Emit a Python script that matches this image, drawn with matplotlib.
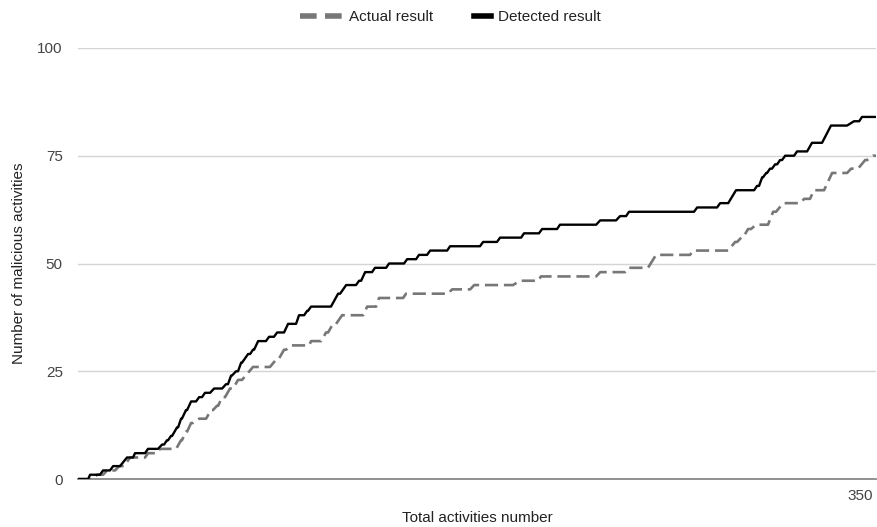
import matplotlib
matplotlib.use("Agg")
import matplotlib.pyplot as plt
from matplotlib.lines import Line2D

plt.rcParams['font.family'] = ['Liberation Sans', 'DejaVu Sans']

# plateaus of each step series: start index, end index, value
actual_start = [0, 8.5, 13.0, 18.4, 23.3, 31.3, 36.7, 46.1, 48.3, 50.6, 54.2, 59.5, 62.2, 64.5,
                68.0, 71.6, 78.3, 89.1, 92.2, 95.3, 104.3, 111.0, 114.1, 118.2, 129.4, 134.7,
                146.8, 167.4, 177.3, 197.8, 207.2, 233.7, 246.2, 258.7, 275.3, 294.1, 296.8,
                299.9, 303.5, 311.1, 315.6, 325.0, 329.4, 337.5, 346.0, 352.3, 355.8]
actual_end = [6.7, 11.2, 16.6, 20.6, 30.0, 35.4, 43.9, 46.5, 48.8, 51.5, 57.3, 60.4, 62.7, 65.8,
              69.4, 73.4, 85.9, 90.0, 93.1, 103.4, 108.8, 111.9, 115.5, 127.6, 133.4, 145.5,
              165.6, 175.5, 194.7, 205.9, 231.9, 244.8, 255.1, 273.9, 291.0, 295.0, 297.6,
              301.2, 308.8, 312.4, 323.2, 327.6, 333.9, 344.2, 349.1, 353.2, 357.2]
actual_val = [0, 1, 2, 3, 5, 6, 7, 9, 11, 13, 14, 16, 17, 19,
              21, 23, 26, 28, 30, 31, 32, 34, 36, 38, 40, 42,
              43, 44, 45, 46, 47, 48, 49, 52, 53, 55, 56,
              58, 59, 62, 64, 65, 67, 71, 72, 74, 75]

detected_start = [0, 5.4, 11.2, 15.7, 21.9, 25.5, 31.3, 37.6, 39.8, 41.6, 44.3, 46.1, 48.3, 50.6,
                  54.2, 56.8, 60.9, 66.2, 68.5, 70.7, 73.0, 76.1, 78.3, 80.6, 85.5, 89.1, 94.0,
                  98.9, 102.5, 104.3, 116.4, 120.0, 125.8, 128.5, 132.9, 139.2, 147.3, 152.6,
                  157.6, 166.5, 181.3, 188.9, 199.6, 207.7, 215.7, 233.7, 242.6, 246.6, 277.1,
                  287.4, 294.5, 303.9, 306.2, 308.0, 309.7, 312.0, 314.2, 316.5, 321.8, 328.5,
                  337.0, 347.3, 350.9]
detected_end = [4.5, 9.8, 14.3, 18.8, 24.6, 30.0, 35.8, 38.5, 40.3, 42.1, 44.8, 46.5, 48.8, 52.8,
                55.5, 59.1, 64.5, 67.1, 68.9, 71.6, 73.4, 77.0, 78.8, 84.1, 87.7, 92.2, 97.6,
                101.2, 102.9, 113.2, 117.3, 124.4, 126.7, 131.6, 137.9, 145.9, 151.3, 156.2,
                165.2, 179.9, 187.5, 198.3, 206.3, 214.4, 231.9, 240.8, 245.3, 275.7, 286.0,
                291.0, 302.6, 304.8, 306.6, 308.4, 310.6, 312.9, 315.1, 320.5, 326.3, 333.0,
                344.2, 349.6, 357.2]
detected_val = [0, 1, 2, 3, 5, 6, 7, 8, 9, 10, 12, 14, 16, 18,
                19, 20, 21, 22, 24, 25, 27, 29, 30, 32, 33, 34, 36,
                38, 39, 40, 43, 45, 46, 48, 49, 50, 51, 52,
                53, 54, 55, 56, 57, 58, 59, 60, 61, 62, 63,
                64, 67, 68, 70, 71, 72, 73, 74, 75, 76, 78,
                82, 83, 84]

y_ticks = [0, 25, 50, 75, 100]
x_ticks = [350]


def plateau_path(starts, ends, vals):
    xs, ys = [], []
    for s, e, v in zip(starts, ends, vals):
        xs += [s, e]
        ys += [v, v]
    return xs, ys


fig = plt.figure(figsize=(8.77, 5.27), dpi=100)
ax = fig.add_axes([0.089, 0.091, 0.910, 0.818])

ax_x, ax_y = plateau_path(actual_start, actual_end, actual_val)
de_x, de_y = plateau_path(detected_start, detected_end, detected_val)

ax.plot(ax_x, ax_y, color='#777777', lw=1.9, dashes=(5, 2.2), solid_capstyle='butt', zorder=3)
ax.plot(de_x, de_y, color='#000000', lw=1.7, zorder=4)

ax.set_xlim(0, 357.2)
ax.set_ylim(0, 100)
ax.set_yticks(y_ticks)
ax.set_xticks(x_ticks)
ax.tick_params(length=0, labelsize=11, colors='#444444')
ax.tick_params(axis='y', pad=11)
ax.tick_params(axis='x', pad=7)
ax.grid(axis='y', color='#d4d4d4', lw=1)
ax.set_axisbelow(True)
for side in ['top', 'right', 'left']:
    ax.spines[side].set_visible(False)
ax.spines['bottom'].set_color('#888888')
ax.spines['bottom'].set_linewidth(1.3)

ax.set_xlabel('Total activities number', fontsize=11, color='#222222', labelpad=6)
ax.set_ylabel('Number of malicious activities', fontsize=11, color='#222222', labelpad=8)

# two legends so each icon keeps its own length
leg1 = fig.legend([Line2D([], [], color='#777777', lw=4, dashes=(3.0, 1.5))], ['Actual result'],
                  loc='center', bbox_to_anchor=(0.418, 0.968), frameon=False, fontsize=11,
                  handlelength=2.75, handletextpad=0.5)
leg2 = fig.legend([Line2D([], [], color='#000000', lw=4)], ['Detected result'],
                  loc='center', bbox_to_anchor=(0.613, 0.968), frameon=False, fontsize=11,
                  handlelength=1.1, handletextpad=0.5)
for leg in (leg1, leg2):
    for t in leg.get_texts():
        t.set_color('#222222')

fig.savefig('out.png', dpi=100)
